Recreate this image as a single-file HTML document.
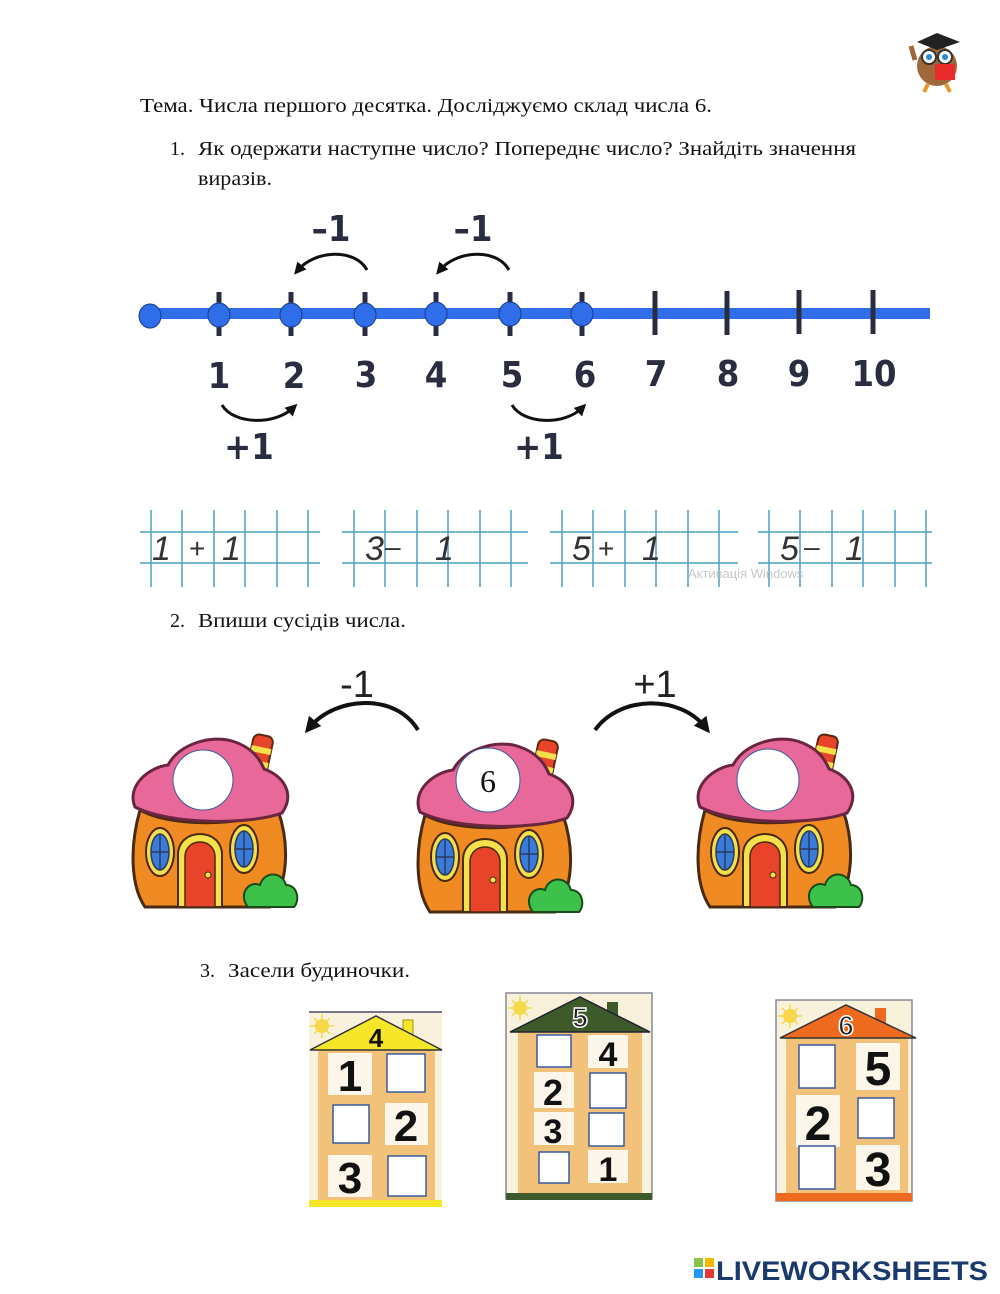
<!DOCTYPE html>
<html><head><meta charset="utf-8"><style>
html,body{margin:0;padding:0;background:#fff;}
svg{display:block}
</style></head><body>
<svg width="1000" height="1294" viewBox="0 0 1000 1294" xmlns="http://www.w3.org/2000/svg">
<defs>
<marker id="ah" viewBox="0 0 10 10" refX="5" refY="5" markerWidth="4" markerHeight="4" orient="auto-start-reverse"><path d="M0,0 L10,5 L0,10 z" fill="#111"/></marker>
<g id="mh">
  <g transform="rotate(12 130 20)">
    <rect x="120" y="0" width="20" height="42" rx="6" fill="#e8442a" stroke="#5a2a10" stroke-width="2"/>
    <rect x="120" y="12" width="20" height="6" fill="#f4e04a"/>
    <rect x="120" y="26" width="20" height="6" fill="#f4e04a"/>
  </g>
  <path d="M10,75 C0,110 0,150 15,172 L140,172 C158,150 160,110 148,75 C110,92 40,92 10,75 Z" fill="#f08a22" stroke="#4a2a10" stroke-width="3"/>
  <path d="M5,72 C-4,50 20,32 38,30 C50,8 82,0 102,6 C122,12 130,24 134,34 C152,40 166,58 152,78 C120,90 40,90 5,72 Z" fill="#e8689a" stroke="#6a2540" stroke-width="3"/>
  <ellipse cx="30" cy="117" rx="14" ry="24" fill="#f4e04a" stroke="#4a2a10" stroke-width="2"/>
  <ellipse cx="30" cy="117" rx="9" ry="18" fill="#3a7ad8" stroke="#2a3a60" stroke-width="1.5"/>
  <path d="M21,117 H39 M30,99 V135" stroke="#2a3a60" stroke-width="1.5"/>
  <ellipse cx="114" cy="114" rx="14" ry="24" fill="#f4e04a" stroke="#4a2a10" stroke-width="2"/>
  <ellipse cx="114" cy="114" rx="9" ry="18" fill="#3a7ad8" stroke="#2a3a60" stroke-width="1.5"/>
  <path d="M105,114 H123 M114,96 V132" stroke="#2a3a60" stroke-width="1.5"/>
  <path d="M48,172 V120 C48,92 92,92 92,120 V172 Z" fill="#f4e04a" stroke="#4a2a10" stroke-width="2"/>
  <path d="M55,172 V122 C55,102 85,102 85,122 V172 Z" fill="#e8442a" stroke="#4a2a10" stroke-width="1.5"/>
  <circle cx="78" cy="140" r="3" fill="#f4e04a" stroke="#4a2a10"/>
  <path d="M118,172 C108,160 118,145 130,150 C134,136 152,136 156,150 C168,150 170,166 164,172 Z" fill="#3cc24a" stroke="#1a4a1a" stroke-width="2"/>
</g>
<g id="sun"><circle cx="0" cy="0" r="7" fill="#f7d84a"/><path d="M-12,0H12M0,-12V12M-8,-8L8,8M-8,8L8,-8" stroke="#f7d84a" stroke-width="1.5"/></g>
</defs>

<!-- owl -->
<g>
<ellipse cx="937" cy="66" rx="20" ry="20" fill="#a0683a"/>
<circle cx="929" cy="57" r="7" fill="#fff" stroke="#333" stroke-width="2"/>
<circle cx="945" cy="57" r="7" fill="#fff" stroke="#333" stroke-width="2"/>
<circle cx="929" cy="57" r="3" fill="#2a8ad8"/><circle cx="945" cy="57" r="3" fill="#2a8ad8"/>
<path d="M917,42 L937,33 L960,42 L937,50 Z" fill="#222"/>
<rect x="935" y="64" width="20" height="16" fill="#e82a2a"/>
<path d="M928,84 l-4,8 M946,84 l4,8" stroke="#e8962a" stroke-width="4"/>
<path d="M915,60 l-4,-14" stroke="#a0683a" stroke-width="5"/>
</g>

<g font-family="Liberation Serif, serif" font-size="20" fill="#111">
<text x="140" y="112" textLength="572" lengthAdjust="spacingAndGlyphs">Тема. Числа першого десятка. Досліджуємо склад числа 6.</text>
<text x="170" y="155">1.</text>
<text x="198" y="155" textLength="658" lengthAdjust="spacingAndGlyphs">Як одержати наступне число? Попереднє число? Знайдіть значення</text>
<text x="198" y="185" textLength="74" lengthAdjust="spacingAndGlyphs">виразів.</text>
<text x="170" y="627">2.</text>
<text x="198" y="627" textLength="208" lengthAdjust="spacingAndGlyphs">Впиши сусідів числа.</text>
<text x="200" y="977">3.</text>
<text x="228" y="977" textLength="182" lengthAdjust="spacingAndGlyphs">Засели будиночки.</text>
</g>

<!-- number line -->
<rect x="150" y="308" width="780" height="11" fill="#2f6ee8"/>
<g stroke="#2a2d40" stroke-width="5">
<line x1="219" y1="292" x2="219" y2="336"/><line x1="291" y1="292" x2="291" y2="336"/>
<line x1="365" y1="292" x2="365" y2="336"/><line x1="436" y1="292" x2="436" y2="336"/>
<line x1="510" y1="292" x2="510" y2="336"/><line x1="582" y1="292" x2="582" y2="336"/>
<line x1="655" y1="291" x2="655" y2="335"/><line x1="727" y1="291" x2="727" y2="335"/>
<line x1="799" y1="290" x2="799" y2="334"/><line x1="873" y1="290" x2="873" y2="334"/>
</g>
<g fill="#2f6ee8" stroke="#1a3a90" stroke-width="1">
<ellipse cx="150" cy="316" rx="11" ry="12"/><ellipse cx="219" cy="315" rx="11" ry="12"/><ellipse cx="291" cy="315" rx="11" ry="12"/>
<ellipse cx="365" cy="315" rx="11" ry="12"/><ellipse cx="436" cy="314" rx="11" ry="12"/><ellipse cx="510" cy="314" rx="11" ry="12"/><ellipse cx="582" cy="314" rx="11" ry="12"/>
</g>
<g font-family="DejaVu Sans Condensed, DejaVu Sans, sans-serif" font-weight="bold" font-size="36" fill="#2a2d40" text-anchor="middle">
<text x="219" y="388">1</text><text x="294" y="388">2</text><text x="366" y="387">3</text><text x="436" y="387">4</text>
<text x="512" y="387">5</text><text x="585" y="387">6</text><text x="656" y="386">7</text><text x="728" y="386">8</text>
<text x="799" y="386">9</text><text x="874" y="386">10</text>
<text x="331" y="241">–1</text><text x="473" y="241">–1</text>
<text x="249" y="459">+1</text><text x="539" y="459">+1</text>
</g>
<g fill="none" stroke="#111" stroke-width="3">
<path d="M367,270 C355,248 315,250 298,270" marker-end="url(#ah)"/>
<path d="M509,270 C497,248 457,250 440,270" marker-end="url(#ah)"/>
<path d="M222,405 C234,425 275,425 293,408" marker-end="url(#ah)"/>
<path d="M512,405 C524,425 565,425 582,408" marker-end="url(#ah)"/>
</g>

<!-- grids -->
<g stroke="#4aa0c0" stroke-width="1.5">
<line x1="140" y1="532" x2="320" y2="532"/><line x1="140" y1="563" x2="320" y2="563"/>
<line x1="342" y1="532" x2="528" y2="532"/><line x1="342" y1="563" x2="528" y2="563"/>
<line x1="550" y1="532" x2="738" y2="532"/><line x1="550" y1="563" x2="738" y2="563"/>
<line x1="758" y1="532" x2="932" y2="532"/><line x1="758" y1="563" x2="932" y2="563"/>
<g id="vl">
<line x1="151" y1="510" x2="151" y2="587"/><line x1="182" y1="510" x2="182" y2="587"/><line x1="214" y1="510" x2="214" y2="587"/>
<line x1="245" y1="510" x2="245" y2="587"/><line x1="277" y1="510" x2="277" y2="587"/><line x1="308" y1="510" x2="308" y2="587"/>
</g>
<use href="#vl" x="203"/><use href="#vl" x="411"/><use href="#vl" x="618"/>
</g>
<g font-family="Liberation Sans, sans-serif" font-style="italic" font-size="34" fill="#333">
<text x="152" y="560">1</text><text x="189" y="558" font-style="normal" font-size="28">+</text><text x="222" y="560">1</text>
<text x="365" y="560">3</text><text x="385" y="556" font-style="normal" font-size="28">–</text><text x="435" y="560">1</text>
<text x="572" y="560">5</text><text x="598" y="558" font-style="normal" font-size="28">+</text><text x="642" y="560">1</text>
<text x="780" y="560">5</text><text x="804" y="556" font-style="normal" font-size="28">–</text><text x="845" y="560">1</text>
</g>
<text x="688" y="578" font-family="Liberation Sans, sans-serif" font-size="13" fill="#c8c8c8">Активація Windows</text>

<!-- section 2 -->
<g font-family="Liberation Sans, sans-serif" font-size="38" fill="#222" text-anchor="middle">
<text x="357" y="697">-1</text><text x="655" y="697">+1</text>
</g>
<g fill="none" stroke="#111" stroke-width="4">
<path d="M418,730 C395,692 335,697 310,727" marker-end="url(#ah)"/>
<path d="M595,730 C620,695 680,695 705,727" marker-end="url(#ah)"/>
</g>
<use href="#mh" x="130" y="735"/>
<use href="#mh" x="415" y="740"/>
<use href="#mh" x="695" y="735"/>
<g fill="#fff" stroke="#3a5aa0" stroke-width="1">
<circle cx="203" cy="780" r="30"/><circle cx="488" cy="780" r="32"/><circle cx="768" cy="780" r="31"/>
</g>
<text x="488" y="792" font-family="Liberation Serif, serif" font-size="32" text-anchor="middle" fill="#111">6</text>

<!-- section 3 houses -->
<g font-family="Liberation Sans, sans-serif" font-weight="bold" fill="#111" text-anchor="middle">
<rect x="309" y="1012" width="133" height="195" fill="#f8f2dc"/>
<line x1="309" y1="1012" x2="442" y2="1012" stroke="#778" stroke-width="2"/>
<use href="#sun" x="322" y="1026"/>
<rect x="403" y="1020" width="10" height="18" fill="#f5e62a" stroke="#a09010"/>
<rect x="318" y="1050" width="117" height="150" fill="#f3c27a"/>
<polygon points="310,1050 376,1016 442,1050" fill="#f5e62a" stroke="#333" stroke-width="1.5"/>
<rect x="309" y="1200" width="133" height="7" fill="#f5e62a"/>
<text x="376" y="1047" font-size="26">4</text>
<rect x="328" y="1053" width="44" height="42" fill="#fbf5ea"/><text x="350" y="1091" font-size="44">1</text>
<rect x="387" y="1054" width="38" height="38" fill="#fff" stroke="#3a5aa0" stroke-width="1.5"/>
<rect x="333" y="1105" width="36" height="38" fill="#fff" stroke="#3a5aa0" stroke-width="1.5"/>
<rect x="385" y="1103" width="43" height="42" fill="#fbf5ea"/><text x="406" y="1141" font-size="44">2</text>
<rect x="328" y="1155" width="44" height="42" fill="#fbf5ea"/><text x="350" y="1193" font-size="44">3</text>
<rect x="388" y="1156" width="38" height="40" fill="#fff" stroke="#3a5aa0" stroke-width="1.5"/>

<rect x="506" y="993" width="146" height="206" fill="#f8f2dc" stroke="#889" stroke-width="1.5"/>
<use href="#sun" x="520" y="1008"/>
<rect x="607" y="1002" width="11" height="18" fill="#3e5a2a"/>
<rect x="518" y="1032" width="124" height="161" fill="#f3c27a"/>
<polygon points="510,1032 580,997 650,1032" fill="#3e5a2a" stroke="#223" stroke-width="1.5"/>
<rect x="506" y="1193" width="146" height="7" fill="#3e5a2a"/>
<text x="580" y="1027" font-size="28" fill="#222" stroke="#fff" stroke-width="1.5">5</text>
<rect x="537" y="1035" width="34" height="32" fill="#fff" stroke="#3a5aa0" stroke-width="1.5"/>
<rect x="588" y="1035" width="40" height="33" fill="#fbf5ea"/><text x="608" y="1066" font-size="34">4</text>
<rect x="534" y="1072" width="40" height="36" fill="#fbf5ea"/><text x="553" y="1105" font-size="36">2</text>
<rect x="590" y="1073" width="36" height="35" fill="#fff" stroke="#3a5aa0" stroke-width="1.5"/>
<rect x="534" y="1112" width="40" height="33" fill="#fbf5ea"/><text x="553" y="1143" font-size="34">3</text>
<rect x="589" y="1113" width="35" height="33" fill="#fff" stroke="#3a5aa0" stroke-width="1.5"/>
<rect x="539" y="1152" width="30" height="31" fill="#fff" stroke="#3a5aa0" stroke-width="1.5"/>
<rect x="588" y="1150" width="40" height="33" fill="#fbf5ea"/><text x="608" y="1181" font-size="34">1</text>

<rect x="776" y="1000" width="136" height="201" fill="#f8f2dc" stroke="#889" stroke-width="1.5"/>
<use href="#sun" x="790" y="1016"/>
<rect x="875" y="1008" width="11" height="18" fill="#ee6a1f"/>
<rect x="786" y="1038" width="122" height="155" fill="#f3c27a"/>
<polygon points="780,1038 846,1005 916,1038" fill="#ee6a1f" stroke="#333" stroke-width="1.5"/>
<rect x="776" y="1193" width="136" height="8" fill="#ee6a1f"/>
<text x="846" y="1035" font-size="28" fill="#222" stroke="#fff" stroke-width="1.5">6</text>
<rect x="799" y="1045" width="36" height="43" fill="#fff" stroke="#3a5aa0" stroke-width="1.5"/>
<rect x="856" y="1043" width="44" height="47" fill="#fbf5ea"/><text x="878" y="1085" font-size="48">5</text>
<rect x="796" y="1095" width="44" height="52" fill="#fbf5ea"/><text x="818" y="1140" font-size="48">2</text>
<rect x="858" y="1098" width="36" height="40" fill="#fff" stroke="#3a5aa0" stroke-width="1.5"/>
<rect x="799" y="1146" width="36" height="43" fill="#fff" stroke="#3a5aa0" stroke-width="1.5"/>
<rect x="856" y="1145" width="44" height="45" fill="#fbf5ea"/><text x="878" y="1186" font-size="48">3</text>
</g>

<rect x="694" y="1258" width="9" height="9" fill="#8bc34a"/><rect x="705" y="1258" width="9" height="9" fill="#f5b800"/>
<rect x="694" y="1269" width="9" height="9" fill="#2196f3"/><rect x="705" y="1269" width="9" height="9" fill="#e53935"/>
<text x="716" y="1280" font-family="Liberation Sans, sans-serif" font-weight="bold" font-size="27" fill="#1a3a6e" textLength="272" lengthAdjust="spacingAndGlyphs">LIVEWORKSHEETS</text>
</svg>
</body></html>
